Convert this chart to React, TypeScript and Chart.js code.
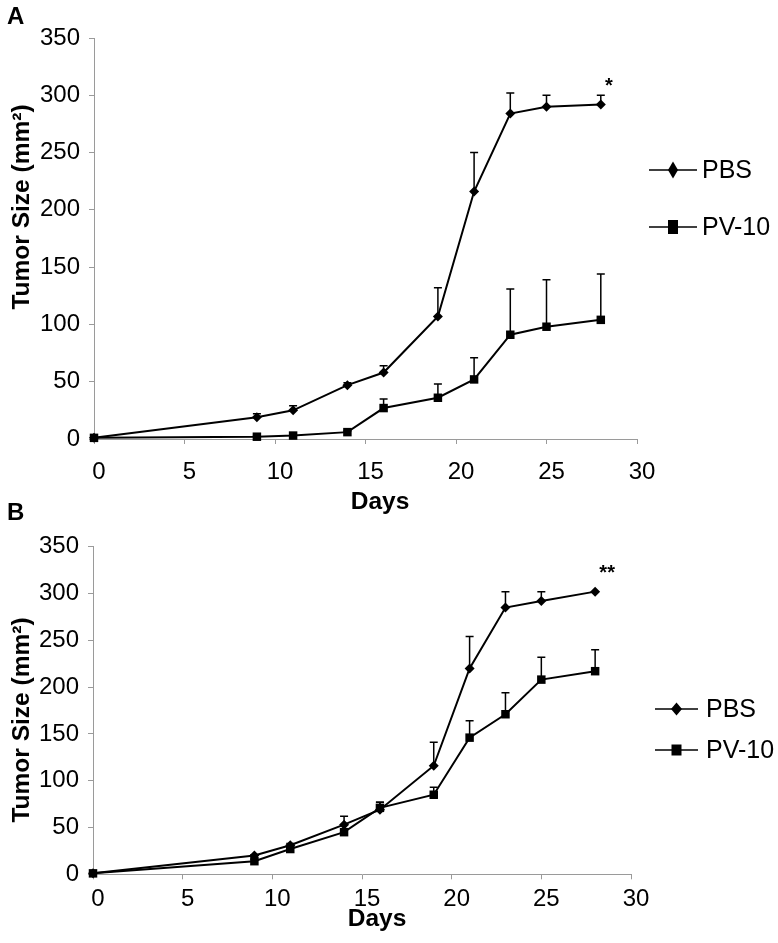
import React, { useEffect, useRef } from "react";
import { Chart, registerables } from "chart.js";

Chart.register(...registerables);

// ---- data ----
const days = [0, 9, 11, 14, 16, 19, 21, 23, 25, 28];

const pbsA = [1, 19, 25, 47, 58, 107, 216, 284, 290, 292];
const pbsAErr = [0, 3, 4, 2, 6, 25, 34, 18, 10, 8];
const pv10A = [1, 2, 3, 6, 27, 36, 52, 91, 98, 104];
const pv10AErr = [0, 1, 1, 1, 8, 12, 19, 40, 41, 40];

const pbsB = [1, 20, 31, 53, 69, 116, 220, 285, 292, 302];
const pbsBErr = [0, 1, 2, 9, 8, 25, 34, 17, 10, 0];
const pv10B = [1, 14, 27, 45, 71, 85, 146, 171, 208, 217];
const pv10BErr = [0, 2, 2, 2, 6, 8, 18, 23, 24, 23];

const seriesLabels = ["PBS", "PV-10"];
const xTitle = "Days";
const yTitle = "Tumor Size (mm\u00B2)";
const xMin = 0, xMax = 30, xStep = 5;
const yMin = 0, yMax = 350, yStep = 50;

const FONT = "'Liberation Sans', Arial, Helvetica, sans-serif";

function toPoints(vals: number[]) {
  return days.map((d, i) => ({ x: d, y: vals[i] }));
}

function drawMarker(ctx: CanvasRenderingContext2D, style: string, x: number, y: number, w: number, h: number) {
  ctx.beginPath();
  if (style === "rectRot") {
    ctx.moveTo(x, y - h / 2);
    ctx.lineTo(x + w / 2, y);
    ctx.lineTo(x, y + h / 2);
    ctx.lineTo(x - w / 2, y);
    ctx.closePath();
  } else {
    ctx.rect(x - w / 2, y - h / 2, w, h);
  }
  ctx.fill();
}

const errorBarsPlugin = {
  id: "errorBars",
  beforeDatasetsDraw(chart: any) {
    const { ctx } = chart;
    const xs = chart.scales.x;
    const ys = chart.scales.y;
    chart.data.datasets.forEach((ds: any) => {
      const errs: number[] = ds.errors;
      if (!errs) return;
      ctx.save();
      ctx.strokeStyle = "#000";
      ctx.lineWidth = 1.5;
      ds.data.forEach((pt: any, i: number) => {
        const e = errs[i];
        if (!e) return;
        const px = xs.getPixelForValue(pt.x);
        const p0 = ys.getPixelForValue(pt.y);
        const p1 = ys.getPixelForValue(pt.y + e);
        ctx.beginPath();
        ctx.moveTo(px, p0);
        ctx.lineTo(px, p1);
        ctx.moveTo(px - 4, p1);
        ctx.lineTo(px + 4, p1);
        ctx.stroke();
      });
      ctx.restore();
    });
  },
};

const annotPlugin = {
  id: "annot",
  afterDraw(chart: any, _args: any, o: any) {
    const { ctx } = chart;
    ctx.save();
    ctx.fillStyle = "#000";
    // panel letter
    ctx.font = `bold 24px ${FONT}`;
    ctx.textAlign = "left";
    ctx.textBaseline = "middle";
    ctx.fillText(o.letter, o.letterX, o.letterY);
    // y title
    ctx.save();
    ctx.translate(o.yTitleX, o.yTitleY);
    ctx.rotate(-Math.PI / 2);
    ctx.textAlign = "center";
    ctx.font = `bold 24.5px ${FONT}`;
    ctx.fillText(yTitle, 0, 0);
    ctx.restore();
    // x title
    ctx.textAlign = "center";
    ctx.font = `bold 24.5px ${FONT}`;
    ctx.fillText(xTitle, o.xTitleX, o.xTitleY);
    // stars above last PBS point
    const ds = chart.data.datasets[0];
    const last = ds.data[ds.data.length - 1];
    const sx = chart.scales.x.getPixelForValue(last.x);
    const sy = chart.scales.y.getPixelForValue(last.y);
    ctx.font = `bold 20px ${FONT}`;
    ctx.fillText(o.stars, sx + o.starDx, sy + o.starDy);
    // legend
    chart.data.datasets.forEach((d: any, i: number) => {
      const ly = o.legendY[i];
      ctx.strokeStyle = "#000";
      ctx.lineWidth = 1.5;
      ctx.beginPath();
      ctx.moveTo(o.legendX0, ly);
      ctx.lineTo(o.legendX1, ly);
      ctx.stroke();
      const mx = (o.legendX0 + o.legendX1) / 2;
      if (d.pointStyle === "rectRot") drawMarker(ctx, "rectRot", mx, ly, o.diamondW, o.diamondH);
      else drawMarker(ctx, "rect", mx, ly, o.squareW, o.squareH);
      ctx.font = `25px ${FONT}`;
      ctx.textAlign = "left";
      ctx.textBaseline = "middle";
      ctx.fillText(d.label, o.legendTextX, ly + 1);
    });
    ctx.restore();
  },
};

function makeConfig(pbs: number[], pbsErr: number[], pv: number[], pvErr: number[], layout: any, annot: any): any {
  return {
    type: "line",
    data: {
      datasets: [
        {
          label: seriesLabels[0],
          data: toPoints(pbs),
          errors: pbsErr,
          borderColor: "#000",
          backgroundColor: "#000",
          borderWidth: 2,
          pointStyle: "rectRot",
          pointRadius: 5,
          pointBorderWidth: 0,
          tension: 0,
          clip: false,
        },
        {
          label: seriesLabels[1],
          data: toPoints(pv),
          errors: pvErr,
          borderColor: "#000",
          backgroundColor: "#000",
          borderWidth: 2,
          pointStyle: "rect",
          pointRadius: 6,
          pointBorderWidth: 0,
          tension: 0,
          clip: false,
        },
      ],
    },
    options: {
      animation: false,
      responsive: false,
      maintainAspectRatio: false,
      events: [],
      layout: { padding: layout.padding },
      plugins: {
        legend: { display: false },
        tooltip: { enabled: false },
        annot,
      },
      scales: {
        x: {
          type: "linear",
          min: xMin,
          max: xMax,
          afterFit(s: any) { s.height = layout.xHeight; },
          ticks: {
            stepSize: xStep,
            color: "#000",
            font: { family: FONT, size: 24 },
            padding: layout.xTickPad,
            labelOffset: 5,
            maxRotation: 0,
          },
          grid: { display: true, drawOnChartArea: false, drawTicks: true, tickLength: 5, color: "#9a9a9a" },
          border: { display: true, color: "#9a9a9a", width: 1 },
        },
        y: {
          type: "linear",
          min: yMin,
          max: yMax,
          afterFit(s: any) { s.width = layout.yWidth; },
          ticks: {
            stepSize: yStep,
            color: "#000",
            font: { family: FONT, size: 24 },
            padding: 9,
          },
          grid: { display: true, drawOnChartArea: false, drawTicks: true, tickLength: 5, color: "#9a9a9a" },
          border: { display: true, color: "#9a9a9a", width: 1 },
        },
      },
    },
    plugins: [errorBarsPlugin, annotPlugin],
  };
}

function Panel(props: { top: number; height: number; config: any }) {
  const ref = useRef<HTMLCanvasElement | null>(null);
  useEffect(() => {
    if (!ref.current) return;
    const chart = new Chart(ref.current, props.config);
    return () => chart.destroy();
  }, []);
  return (
    <canvas
      ref={ref}
      width={778}
      height={props.height}
      style={{ position: "absolute", left: 0, top: props.top, width: 778, height: props.height }}
    />
  );
}

export default function App() {
  const cfgA = makeConfig(
    pbsA, pbsAErr, pv10A, pv10AErr,
    { padding: { left: 0, top: 38, right: 141, bottom: 31 }, xHeight: 50, yWidth: 94, xTickPad: 14 },
    {
      letter: "A", letterX: 7, letterY: 17,
      yTitleX: 22, yTitleY: 207,
      xTitleX: 380, xTitleY: 502,
      stars: "*", starDx: 8, starDy: -18,
      legendX0: 649, legendX1: 697, legendTextX: 702, legendY: [170, 227],
      diamondW: 10, diamondH: 17, squareW: 10, squareH: 14,
    }
  );
  const cfgB = makeConfig(
    pbsB, pbsBErr, pv10B, pv10BErr,
    { padding: { left: 0, top: 51.7, right: 147, bottom: 18.7 }, xHeight: 50, yWidth: 93, xTickPad: 6 },
    {
      letter: "B", letterX: 7, letterY: 18,
      yTitleX: 22, yTitleY: 225,
      xTitleX: 377, xTitleY: 424,
      stars: "**", starDx: 12, starDy: -18,
      legendX0: 655, legendX1: 698, legendTextX: 706, legendY: [214, 255],
      diamondW: 11, diamondH: 13, squareW: 10, squareH: 11,
    }
  );
  return (
    <div style={{ position: "absolute", left: 0, top: 0, width: 778, height: 943, background: "#fff" }}>
      <Panel top={0} height={520} config={cfgA} />
      <Panel top={495} height={448} config={cfgB} />
    </div>
  );
}
